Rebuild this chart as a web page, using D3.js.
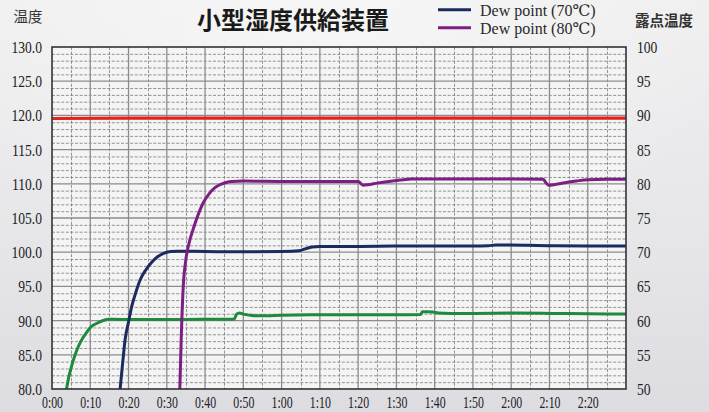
<!DOCTYPE html>
<html>
<head>
<meta charset="utf-8">
<script src="https://cdn.jsdelivr.net/npm/d3@7/dist/d3.min.js"></script>
<style>
  html, body { margin: 0; padding: 0; }
  body { width: 709px; height: 412px; overflow: hidden; }
  svg { display: block; }
  .num { font-family: "Liberation Serif", "Times New Roman", "DejaVu Serif", serif; }
  .cjk { font-family: "Noto Sans CJK JP", "Noto Sans CJK SC", sans-serif; }
</style>
</head>
<body>
<svg id="chart" width="709" height="412"></svg>
<script>
// ---- data ----
const title = "小型湿度供給装置";
const leftAxisTitle = "温度";
const rightAxisTitle = "露点温度";
const xTickMinutes = [0, 10, 20, 30, 40, 50, 60, 70, 80, 90, 100, 110, 120, 130, 140];
const xTickLabels = ["0:00","0:10","0:20","0:30","0:40","0:50","1:00","1:10","1:20","1:30","1:40","1:50","2:00","2:10","2:20"];
const leftTicks = [80, 85, 90, 95, 100, 105, 110, 115, 120, 125, 130];
const rightTicks = [50, 55, 60, 65, 70, 75, 80, 85, 90, 95, 100];
const legendLabels = ["Dew point (70℃)", "Dew point (80℃)"];

// temperature (red), left-axis units
const redTime = [0, 30, 60, 90, 120, 150];
const redVal  = [119.55, 119.6, 119.6, 119.6, 119.6, 119.6];

// dew point 60 (green), left-axis units
const greenTime = [3.8, 4.4, 5.1, 5.8, 6.5, 7.3, 8.2, 9.1, 9.9, 11, 12.5, 13.6, 14.7, 16, 20, 30, 40, 47.6, 48.2, 49, 50, 51.5, 53, 56, 60, 70, 80, 90, 96.3, 96.8, 98, 99.5, 101, 104, 110, 120, 130, 140, 150];
const greenVal  = [80, 81.8, 83.3, 84.6, 85.7, 86.7, 87.6, 88.3, 88.9, 89.4, 89.8, 90.05, 90.2, 90.2, 90.15, 90.15, 90.2, 90.2, 90.9, 91.1, 90.95, 90.8, 90.7, 90.7, 90.8, 90.85, 90.85, 90.85, 90.9, 91.3, 91.3, 91.25, 91.1, 91.05, 91.05, 91.1, 91.05, 91.0, 90.95];

// dew point 70 (navy), left-axis units
const navyTime = [17.8, 18.5, 19.1, 20, 20.8, 22, 23, 24.5, 26, 27.5, 29, 31, 33, 40, 50, 60, 64.5, 66.5, 68, 70, 75, 80, 90, 100, 110, 114, 116, 120, 125, 130, 140, 150];
const navyVal  = [80, 84, 87.2, 89.8, 92, 94.3, 95.9, 97.4, 98.5, 99.3, 99.8, 100.1, 100.15, 100.1, 100.05, 100.1, 100.2, 100.55, 100.75, 100.85, 100.85, 100.85, 100.9, 100.9, 100.9, 100.95, 101.05, 101.05, 101.0, 100.95, 100.9, 100.9];

// dew point 80 (purple), left-axis units
const purpleTime = [33.4, 33.8, 34.3, 35, 35.8, 36.8, 38, 39.5, 41, 42.5, 44, 45.5, 47, 50, 60, 70, 80, 80.6, 81.3, 82.5, 85, 88, 91, 94, 100, 110, 120, 128.4, 129, 129.8, 131.5, 134, 137, 140, 145, 150];
const purpleVal  = [80, 88, 95, 99, 101.3, 103.2, 105.2, 107.2, 108.5, 109.4, 109.9, 110.2, 110.35, 110.4, 110.35, 110.35, 110.35, 110.1, 109.8, 109.85, 110.1, 110.35, 110.55, 110.7, 110.7, 110.7, 110.7, 110.65, 110.2, 109.8, 109.9, 110.15, 110.4, 110.6, 110.65, 110.65];

// ---- layout ----
const W = 709, H = 412;
const plot = { left: 52, top: 47, right: 626, bottom: 389 };
const svg = d3.select("#chart");

const defs = svg.append("defs");
const bg = defs.append("linearGradient").attr("id", "bg").attr("x1", 0).attr("y1", 0).attr("x2", 0).attr("y2", 1);
bg.append("stop").attr("offset", "0%").attr("stop-color", "#efeff0");
bg.append("stop").attr("offset", "60%").attr("stop-color", "#e6e6e9");
bg.append("stop").attr("offset", "100%").attr("stop-color", "#dcdce1");
const glow = defs.append("radialGradient").attr("id", "glow").attr("cx", 0.45).attr("cy", 0.05).attr("r", 0.6);
glow.append("stop").attr("offset", "0%").attr("stop-color", "#f7f7f7").attr("stop-opacity", 0.9);
glow.append("stop").attr("offset", "100%").attr("stop-color", "#f7f7f7").attr("stop-opacity", 0);
defs.append("clipPath").attr("id", "clip").append("rect")
  .attr("x", plot.left).attr("y", plot.top)
  .attr("width", plot.right - plot.left).attr("height", plot.bottom - plot.top);

svg.append("rect").attr("width", W).attr("height", H).attr("fill", "url(#bg)");
svg.append("rect").attr("width", W).attr("height", H).attr("fill", "url(#glow)");

const x = d3.scaleLinear().domain([0, 150]).range([plot.left, plot.right]);
const yL = d3.scaleLinear().domain([80, 130]).range([plot.bottom, plot.top]);
const yR = d3.scaleLinear().domain([50, 100]).range([plot.bottom, plot.top]);

svg.append("rect")
  .attr("x", plot.left).attr("y", plot.top)
  .attr("width", plot.right - plot.left).attr("height", plot.bottom - plot.top)
  .attr("fill", "#f4f4f5");

// grid
const grid = svg.append("g");
const minorH = d3.range(81, 130).filter(v => v % 5 !== 0);
const majorH = d3.range(85, 130, 5);
const minorV = d3.range(5, 150, 10);
const majorV = d3.range(10, 150, 10);
grid.selectAll(".mh").data(minorH).join("line")
  .attr("x1", plot.left).attr("x2", plot.right)
  .attr("y1", d => yL(d) + 0.5).attr("y2", d => yL(d) + 0.5)
  .attr("stroke", "#7a7a7a").attr("stroke-width", 0.8).attr("stroke-dasharray", "3,1.6");
grid.selectAll(".mv").data(minorV).join("line")
  .attr("y1", plot.top).attr("y2", plot.bottom)
  .attr("x1", d => Math.round(x(d)) + 0.5).attr("x2", d => Math.round(x(d)) + 0.5)
  .attr("stroke", "#7a7a7a").attr("stroke-width", 0.8).attr("stroke-dasharray", "3,1.6");
grid.selectAll(".Mh").data(majorH).join("line")
  .attr("x1", plot.left).attr("x2", plot.right)
  .attr("y1", d => yL(d)).attr("y2", d => yL(d))
  .attr("stroke", "#8c8c8c").attr("stroke-width", 1.3);
grid.selectAll(".Mv").data(majorV).join("line")
  .attr("y1", plot.top).attr("y2", plot.bottom)
  .attr("x1", d => x(d)).attr("x2", d => x(d))
  .attr("stroke", "#8c8c8c").attr("stroke-width", 1.3);

// series
const series = [
  { t: redTime, v: redVal, color: "#e5221c", w: 3.2 },
  { t: greenTime, v: greenVal, color: "#1f8a3e", w: 3 },
  { t: navyTime, v: navyVal, color: "#1c2a5e", w: 3 },
  { t: purpleTime, v: purpleVal, color: "#7d1f80", w: 3 }
];
const line = d3.line().x(d => x(d[0])).y(d => yL(d[1])).curve(d3.curveMonotoneX);
const lines = svg.append("g").attr("clip-path", "url(#clip)");
series.forEach(s => {
  lines.append("path")
    .datum(s.t.map((t, i) => [t, s.v[i]]))
    .attr("fill", "none").attr("stroke", s.color)
    .attr("stroke-width", s.w).attr("stroke-linejoin", "round")
    .attr("d", line);
});

// border
svg.append("rect")
  .attr("x", plot.left).attr("y", plot.top)
  .attr("width", plot.right - plot.left).attr("height", plot.bottom - plot.top)
  .attr("fill", "none").attr("stroke", "#333").attr("stroke-width", 1.6);

// axes
const sx = 0.8;
const xAxis = d3.axisBottom(x).tickValues(xTickMinutes)
  .tickFormat((d, i) => xTickLabels[i]).tickSize(0).tickPadding(8);
const gx = svg.append("g").attr("transform", `translate(0,${plot.bottom})`).call(xAxis);
gx.attr("font-family", null).attr("font-size", null);
gx.select(".domain").remove();
gx.selectAll("text").attr("class", "num").style("font-size", "16px").attr("fill", "#222")
  .attr("transform", `scale(0.74,1)`);

const yAxisL = d3.axisLeft(yL).tickValues(leftTicks).tickFormat(d3.format(".1f")).tickSize(0).tickPadding(10 / sx);
const gl = svg.append("g").attr("transform", `translate(${plot.left},0)`).call(yAxisL);
gl.attr("font-family", null).attr("font-size", null);
gl.select(".domain").remove();
gl.selectAll("text").attr("class", "num").style("font-size", "17px").attr("fill", "#222")
  .attr("transform", `scale(${sx},1)`);

const yAxisR = d3.axisRight(yR).tickValues(rightTicks).tickFormat(d3.format("d")).tickSize(0).tickPadding(11 / sx);
const gr = svg.append("g").attr("transform", `translate(${plot.right},0)`).call(yAxisR);
gr.attr("font-family", null).attr("font-size", null);
gr.select(".domain").remove();
gr.selectAll("text").attr("class", "num").style("font-size", "17px").attr("fill", "#222")
  .attr("transform", `scale(${sx},1)`);

// titles
svg.append("text").attr("class", "cjk").attr("x", 293).attr("y", 29).attr("text-anchor", "middle")
  .style("font-weight", "bold").style("font-size", "24px").attr("fill", "#1a1a1a")
  .text(title);
svg.append("text").attr("class", "cjk").attr("x", 28).attr("y", 22).attr("text-anchor", "middle")
  .style("font-size", "14.5px").attr("fill", "#333")
  .text(leftAxisTitle);
svg.append("text").attr("class", "cjk").attr("x", 664).attr("y", 26).attr("text-anchor", "middle")
  .style("font-weight", "bold").style("font-size", "14.5px").attr("fill", "#333")
  .text(rightAxisTitle);

// legend
const legColors = ["#1c2a5e", "#7d1f80"];
const leg = svg.append("g");
legendLabels.forEach((lab, i) => {
  const by = 16 + i * 18;
  leg.append("line").attr("x1", 438).attr("x2", 471).attr("y1", by - 6.3).attr("y2", by - 6.3)
    .attr("stroke", legColors[i]).attr("stroke-width", 3);
  leg.append("text").attr("class", "num").attr("x", 480).attr("y", by)
    .style("font-size", "16px").attr("fill", "#2a2a2a")
    .text(lab);
});
</script>
</body>
</html>
